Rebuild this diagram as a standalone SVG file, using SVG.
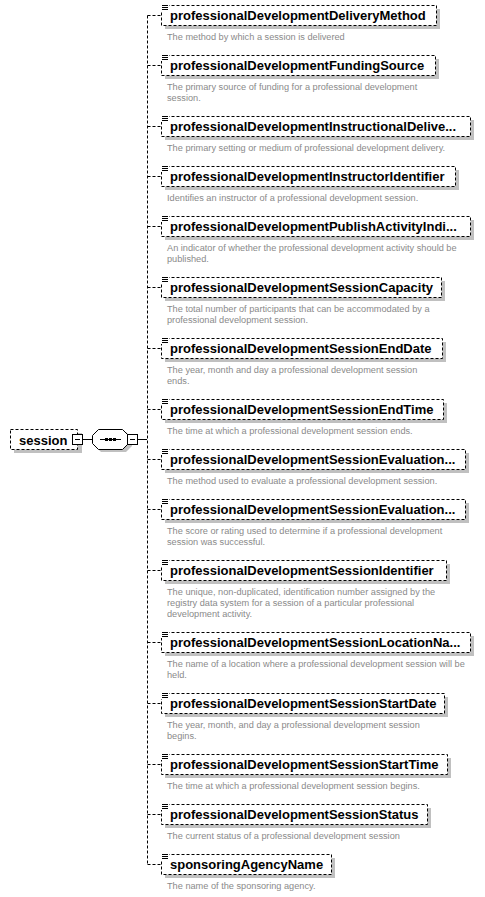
<svg xmlns="http://www.w3.org/2000/svg" width="485" height="897" viewBox="0 0 485 897">
<style>
.box{fill:#fff;stroke:#000;stroke-width:1;stroke-dasharray:3,2}
.sh{fill:#c0c0c0}
.nm{font-family:"Liberation Sans",Arial,sans-serif;font-weight:bold;font-size:13px;fill:#000}
.ds{font-family:"Liberation Sans",Arial,sans-serif;font-size:9.2px;fill:#8a8a8a}
.cn{fill:none;stroke:#000;stroke-width:1;stroke-dasharray:3,2}
.sl{fill:none;stroke:#000;stroke-width:1}
.ic{stroke:#000;stroke-width:1}
</style>
<defs>
<g id="icon"><rect x="161" y="-1" width="8" height="7" fill="#fff"/><path class="ic" d="M162,0.5h6M162,2.5h6M162,4.5h6"/></g>
</defs>
<g id="connectors">
<path class="cn" d="M147.5,15.5V864.5"/>
<path class="cn" d="M147.5,15.5H161M147.5,65.5H161M147.5,126.5H161M147.5,176.5H161M147.5,226.5H161M147.5,287.5H161M147.5,348.5H161M147.5,409.5H161M147.5,459.5H161M147.5,509.5H161M147.5,570.5H161M147.5,642.5H161M147.5,703.5H161M147.5,764.5H161M147.5,814.5H161M147.5,864.5H161"/>
<path class="sl" d="M82,439.5H92M137,439.5H147"/>
</g>
<g id="session">
<rect class="sh" x="14" y="433" width="68" height="20"/>
<rect class="box" x="10.5" y="429.5" width="67" height="20"/>
<text class="nm" x="19" y="444.5">session</text>
<rect x="72.5" y="434.5" width="10" height="10" fill="#fff" stroke="#000"/>
<path class="sl" d="M75,439.5h5"/>
</g>
<g id="sequence">
<path class="sh" d="M101,432H126L132,438V446L126,452H101L95,446V438Z"/>
<path d="M98.5,429.5H122.5L128.5,435.5V443.5L122.5,449.5H98.5L92.5,443.5V435.5Z" fill="#fff" stroke="#000"/>
<path class="sl" d="M100,439.5H121"/>
<rect x="105" y="438" width="3" height="3"/>
<rect x="109" y="438" width="3" height="3"/>
<rect x="113" y="438" width="3" height="3"/>
<rect x="127.5" y="434.5" width="10" height="10" fill="#fff" stroke="#000"/>
<path class="sl" d="M130,439.5h5"/>
</g>
<g id="e1" transform="translate(0,5)">
<rect class="sh" x="165" y="4" width="275" height="20"/><rect class="box" x="161.5" y="0.5" width="275" height="20"/><use href="#icon"/>
<text class="nm" x="170" y="15">professionalDevelopmentDeliveryMethod</text>
<text class="ds" x="167" y="35">The method by which a session is delivered</text>
</g>
<g id="e2" transform="translate(0,55)">
<rect class="sh" x="165" y="4" width="274" height="20"/><rect class="box" x="161.5" y="0.5" width="274" height="20"/><use href="#icon"/>
<text class="nm" x="170" y="15">professionalDevelopmentFundingSource</text>
<text class="ds" x="167" y="35">The primary source of funding for a professional development</text>
<text class="ds" x="167" y="46">session.</text>
</g>
<g id="e3" transform="translate(0,116)">
<rect class="sh" x="165" y="4" width="309" height="20"/><rect class="box" x="161.5" y="0.5" width="309" height="20"/><use href="#icon"/>
<text class="nm" x="170" y="15">professionalDevelopmentInstructionalDelive...</text>
<text class="ds" x="167" y="35">The primary setting or medium of professional development delivery.</text>
</g>
<g id="e4" transform="translate(0,166)">
<rect class="sh" x="165" y="4" width="294" height="20"/><rect class="box" x="161.5" y="0.5" width="294" height="20"/><use href="#icon"/>
<text class="nm" x="170" y="15">professionalDevelopmentInstructorIdentifier</text>
<text class="ds" x="167" y="35">Identifies an instructor of a professional development session.</text>
</g>
<g id="e5" transform="translate(0,216)">
<rect class="sh" x="165" y="4" width="309" height="20"/><rect class="box" x="161.5" y="0.5" width="309" height="20"/><use href="#icon"/>
<text class="nm" x="170" y="15">professionalDevelopmentPublishActivityIndi...</text>
<text class="ds" x="167" y="35">An indicator of whether the professional development activity should be</text>
<text class="ds" x="167" y="46">published.</text>
</g>
<g id="e6" transform="translate(0,277)">
<rect class="sh" x="165" y="4" width="280" height="20"/><rect class="box" x="161.5" y="0.5" width="280" height="20"/><use href="#icon"/>
<text class="nm" x="170" y="15">professionalDevelopmentSessionCapacity</text>
<text class="ds" x="167" y="35">The total number of participants that can be accommodated by a</text>
<text class="ds" x="167" y="46">professional development session.</text>
</g>
<g id="e7" transform="translate(0,338)">
<rect class="sh" x="165" y="4" width="281" height="20"/><rect class="box" x="161.5" y="0.5" width="281" height="20"/><use href="#icon"/>
<text class="nm" x="170" y="15">professionalDevelopmentSessionEndDate</text>
<text class="ds" x="167" y="35">The year, month and day a professional development session</text>
<text class="ds" x="167" y="46">ends.</text>
</g>
<g id="e8" transform="translate(0,399)">
<rect class="sh" x="165" y="4" width="282" height="20"/><rect class="box" x="161.5" y="0.5" width="282" height="20"/><use href="#icon"/>
<text class="nm" x="170" y="15">professionalDevelopmentSessionEndTime</text>
<text class="ds" x="167" y="35">The time at which a professional development session ends.</text>
</g>
<g id="e9" transform="translate(0,449)">
<rect class="sh" x="165" y="4" width="304" height="20"/><rect class="box" x="161.5" y="0.5" width="304" height="20"/><use href="#icon"/>
<text class="nm" x="170" y="15">professionalDevelopmentSessionEvaluation...</text>
<text class="ds" x="167" y="35">The method used to evaluate a professional development session.</text>
</g>
<g id="e10" transform="translate(0,499)">
<rect class="sh" x="165" y="4" width="304" height="20"/><rect class="box" x="161.5" y="0.5" width="304" height="20"/><use href="#icon"/>
<text class="nm" x="170" y="15">professionalDevelopmentSessionEvaluation...</text>
<text class="ds" x="167" y="35">The score or rating used to determine if a professional development</text>
<text class="ds" x="167" y="46">session was successful.</text>
</g>
<g id="e11" transform="translate(0,560)">
<rect class="sh" x="165" y="4" width="285" height="20"/><rect class="box" x="161.5" y="0.5" width="285" height="20"/><use href="#icon"/>
<text class="nm" x="170" y="15">professionalDevelopmentSessionIdentifier</text>
<text class="ds" x="167" y="35">The unique, non-duplicated, identification number assigned by the</text>
<text class="ds" x="167" y="46">registry data system for a session of a particular professional</text>
<text class="ds" x="167" y="57">development activity.</text>
</g>
<g id="e12" transform="translate(0,632)">
<rect class="sh" x="165" y="4" width="309" height="20"/><rect class="box" x="161.5" y="0.5" width="309" height="20"/><use href="#icon"/>
<text class="nm" x="170" y="15">professionalDevelopmentSessionLocationNa...</text>
<text class="ds" x="167" y="35">The name of a location where a professional development session will be</text>
<text class="ds" x="167" y="46">held.</text>
</g>
<g id="e13" transform="translate(0,693)">
<rect class="sh" x="165" y="4" width="283" height="20"/><rect class="box" x="161.5" y="0.5" width="283" height="20"/><use href="#icon"/>
<text class="nm" x="170" y="15">professionalDevelopmentSessionStartDate</text>
<text class="ds" x="167" y="35">The year, month, and day a professional development session</text>
<text class="ds" x="167" y="46">begins.</text>
</g>
<g id="e14" transform="translate(0,754)">
<rect class="sh" x="165" y="4" width="286" height="20"/><rect class="box" x="161.5" y="0.5" width="286" height="20"/><use href="#icon"/>
<text class="nm" x="170" y="15">professionalDevelopmentSessionStartTime</text>
<text class="ds" x="167" y="35">The time at which a professional development session begins.</text>
</g>
<g id="e15" transform="translate(0,804)">
<rect class="sh" x="165" y="4" width="266" height="20"/><rect class="box" x="161.5" y="0.5" width="266" height="20"/><use href="#icon"/>
<text class="nm" x="170" y="15">professionalDevelopmentSessionStatus</text>
<text class="ds" x="167" y="35">The current status of a professional development session</text>
</g>
<g id="e16" transform="translate(0,854)">
<rect class="sh" x="165" y="4" width="170" height="20"/><rect class="box" x="161.5" y="0.5" width="170" height="20"/><use href="#icon"/>
<text class="nm" x="170" y="15">sponsoringAgencyName</text>
<text class="ds" x="167" y="35">The name of the sponsoring agency.</text>
</g>
</svg>
